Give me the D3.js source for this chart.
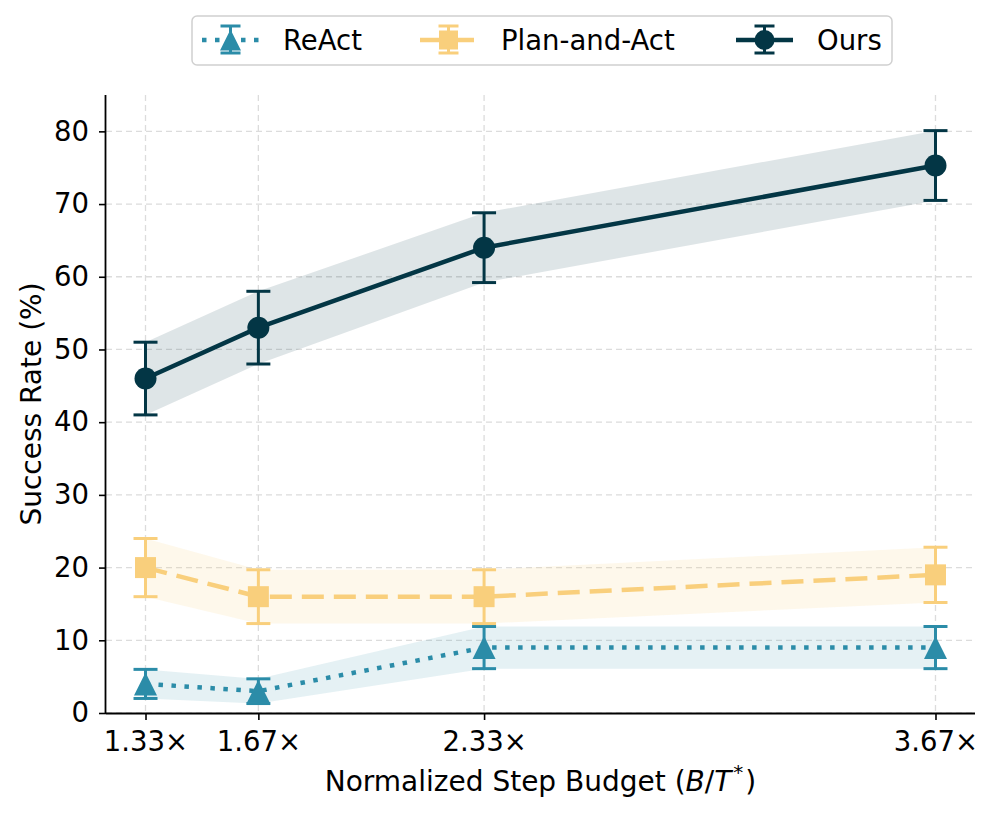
<!DOCTYPE html>
<html>
<head>
  <meta charset="UTF-8">
  <style>
    body { margin: 0; background: white; }
    svg { font-family: "DejaVu Sans", sans-serif; }
  </style>
</head>
<body>
  <svg id="chart" width="997" height="816"></svg>
  <script src="https://d3js.org/d3.v7.min.js"></script>
  <script>
    // budgets (B/T*) and tick labels
    const budgets = [4 / 3, 5 / 3, 7 / 3, 11 / 3];
    const budgetLabels = ["1.33×", "1.67×", "2.33×", "3.67×"];
    const yTicks = [0, 10, 20, 30, 40, 50, 60, 70, 80];

    const seriesNames = ["ReAct", "Plan-and-Act", "Ours"];
    const reactMean = [4, 3, 9, 9];
    const reactErr = [2, 1.7, 2.9, 2.9];
    const planMean = [20, 16, 16, 19];
    const planErr = [4, 3.7, 3.7, 3.8];
    const oursMean = [46, 53, 64, 75.3];
    const oursErr = [5, 5, 4.8, 4.8];

    const series = [
      { name: seriesNames[0], mean: reactMean, err: reactErr, color: "#2b8ca8", dash: "4.5,8.5", marker: "triangle", bandOpacity: 0.12 },
      { name: seriesNames[1], mean: planMean, err: planErr, color: "#f9cf7c", dash: "22,10", marker: "square", bandOpacity: 0.15 },
      { name: seriesNames[2], mean: oursMean, err: oursErr, color: "#033645", dash: null, marker: "circle", bandOpacity: 0.13 }
    ];

    const svg = d3.select("#chart");
    const mLeft = 106, mRight = 975, mTop = 95, mBottom = 713;
    const fs = 27.5;

    const x = d3.scaleLinear()
      .domain([4 / 3 - 0.1167, 11 / 3 + 0.1167])
      .range([mLeft, mRight]);
    const y = d3.scaleLinear().domain([0, 85]).range([mBottom, mTop]);

    // grid
    svg.append("g").selectAll("line")
      .data(yTicks).enter().append("line")
      .attr("x1", mLeft).attr("x2", mRight)
      .attr("y1", d => y(d)).attr("y2", d => y(d))
      .attr("stroke", "#dcdcdc").attr("stroke-width", 1.3)
      .attr("stroke-dasharray", "6,4");
    svg.append("g").selectAll("line")
      .data(budgets).enter().append("line")
      .attr("x1", d => x(d)).attr("x2", d => x(d))
      .attr("y1", mTop).attr("y2", mBottom)
      .attr("stroke", "#dcdcdc").attr("stroke-width", 1.3)
      .attr("stroke-dasharray", "6,4");

    // bands
    series.forEach(s => {
      const area = d3.area()
        .x((d, i) => x(budgets[i]))
        .y0((d, i) => y(s.mean[i] - s.err[i]))
        .y1((d, i) => y(s.mean[i] + s.err[i]));
      svg.append("path")
        .datum(s.mean)
        .attr("d", area)
        .attr("fill", s.color)
        .attr("fill-opacity", s.bandOpacity);
    });

    function drawMarker(g, type, cx, cy, color, size) {
      if (type === "circle") {
        g.append("circle").attr("cx", cx).attr("cy", cy).attr("r", size).attr("fill", color);
      } else if (type === "square") {
        g.append("rect").attr("x", cx - size).attr("y", cy - size)
          .attr("width", size * 2).attr("height", size * 2).attr("fill", color);
      } else {
        const h = size;
        g.append("path")
          .attr("d", `M${cx},${cy - h} L${cx + h},${cy + h} L${cx - h},${cy + h} Z`)
          .attr("fill", color);
      }
    }

    // lines, error bars, markers
    series.forEach(s => {
      const line = d3.line().x((d, i) => x(budgets[i])).y(d => y(d));
      const p = svg.append("path")
        .datum(s.mean)
        .attr("d", line)
        .attr("fill", "none")
        .attr("stroke", s.color)
        .attr("stroke-width", 4.5);
      if (s.dash) p.attr("stroke-dasharray", s.dash);

      const g = svg.append("g");
      s.mean.forEach((m, i) => {
        const cx = x(budgets[i]);
        g.append("line")
          .attr("x1", cx).attr("x2", cx)
          .attr("y1", y(m - s.err[i])).attr("y2", y(m + s.err[i]))
          .attr("stroke", s.color).attr("stroke-width", 3);
        [m - s.err[i], m + s.err[i]].forEach(v => {
          g.append("line")
            .attr("x1", cx - 12).attr("x2", cx + 12)
            .attr("y1", y(v)).attr("y2", y(v))
            .attr("stroke", s.color).attr("stroke-width", 3);
        });
        const size = s.marker === "circle" ? 11 : s.marker === "square" ? 10.5 : 11.5;
        drawMarker(g, s.marker, cx, y(m), s.color, size);
      });
    });

    // axes
    const yAxis = d3.axisLeft(y).tickValues(yTicks).tickSize(7).tickPadding(10);
    const xAxis = d3.axisBottom(x).tickValues(budgets)
      .tickFormat((d, i) => budgetLabels[i]).tickSize(7).tickPadding(11);

    const gy = svg.append("g").attr("transform", `translate(${mLeft},0)`).call(yAxis);
    gy.select(".domain").attr("d", `M-0.5,${mTop}V${mBottom}`).attr("stroke-width", 1.8);
    const gx = svg.append("g").attr("transform", `translate(0,${mBottom})`).call(xAxis);
    gx.select(".domain").attr("d", `M${mLeft},0.5H${mRight}`).attr("stroke-width", 1.8);
    [gx, gy].forEach(g => {
      g.selectAll(".tick line").attr("stroke-width", 1.6);
      g.selectAll(".tick text").attr("font-size", fs).attr("fill", "#000")
        .attr("font-family", "DejaVu Sans");
    });

    svg.append("text")
      .attr("x", x(2.5)).attr("y", 791)
      .attr("text-anchor", "middle").attr("font-size", 28)
      .html('Normalized Step Budget (<tspan font-style="italic">B</tspan>/<tspan font-style="italic">T</tspan><tspan dx="2" dy="-12" font-size="20">*</tspan><tspan dx="2" dy="12">)</tspan>');

    svg.append("text")
      .attr("transform", `translate(41,${(mTop + mBottom) / 2}) rotate(-90)`)
      .attr("text-anchor", "middle").attr("font-size", 28)
      .text("Success Rate (%)");

    // legend
    const lg = svg.append("g");
    lg.append("rect")
      .attr("x", 192).attr("y", 16).attr("width", 700).attr("height", 49)
      .attr("rx", 5).attr("fill", "white").attr("stroke", "#d0d0d0").attr("stroke-width", 1.5);
    const legendX = [202, 420, 736];
    series.forEach((s, i) => {
      const lx = legendX[i];
      const ly = 40;
      const l = lg.append("line")
        .attr("x1", lx).attr("x2", lx + 57).attr("y1", ly).attr("y2", ly)
        .attr("stroke", s.color).attr("stroke-width", 4.5);
      if (s.dash) l.attr("stroke-dasharray", s.dash);
      const cx = lx + 28.5;
      lg.append("line").attr("x1", cx).attr("x2", cx).attr("y1", ly - 14).attr("y2", ly + 13)
        .attr("stroke", s.color).attr("stroke-width", 3);
      [ly - 14, ly + 13].forEach(v => {
        lg.append("line").attr("x1", cx - 10).attr("x2", cx + 10).attr("y1", v).attr("y2", v)
          .attr("stroke", s.color).attr("stroke-width", 3);
      });
      drawMarker(lg, s.marker, cx, ly, s.color, s.marker === "circle" ? 10 : s.marker === "square" ? 9.5 : 10.5);
      lg.append("text")
        .attr("x", lx + 81).attr("y", ly + 10)
        .attr("font-size", fs).text(s.name);
    });
  </script>
</body>
</html>
